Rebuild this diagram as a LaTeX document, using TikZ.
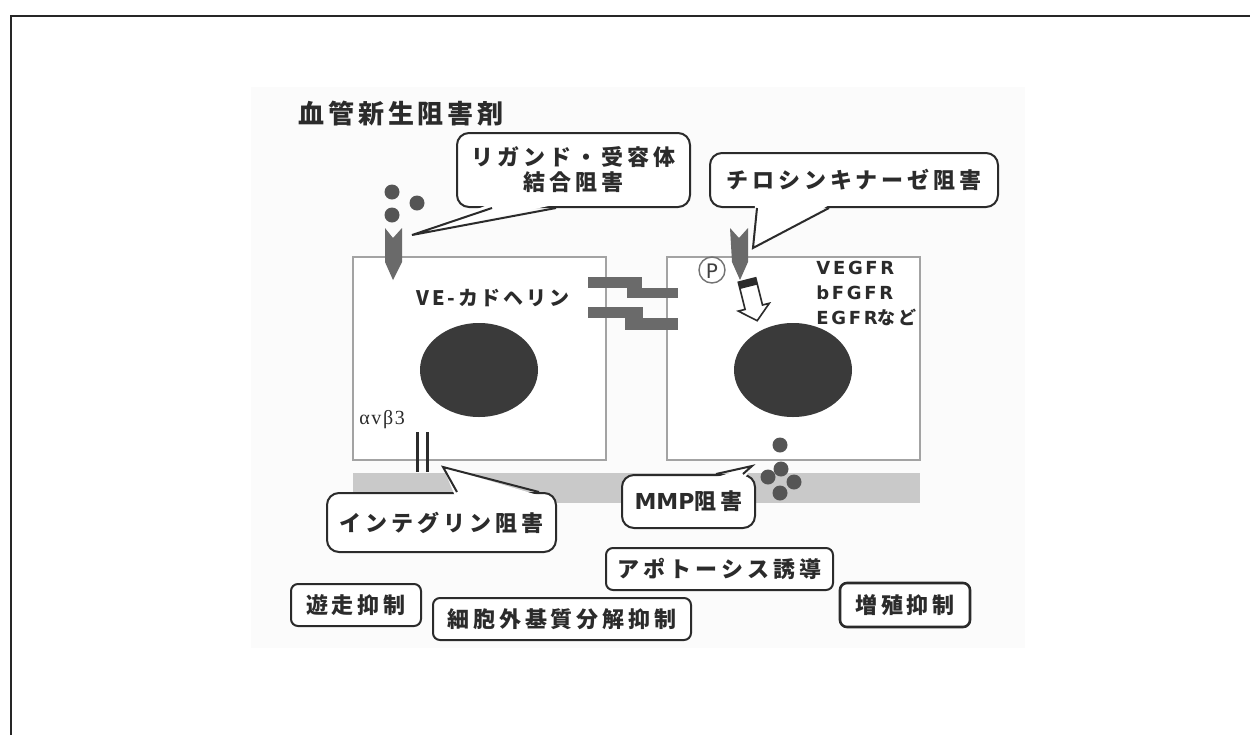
\documentclass[tikz,border=0pt]{standalone}
\usepackage{fontspec}
\usetikzlibrary{calc}
\newfontfamily\jpfont{Noto Sans CJK JP}[LetterSpace=18]
\newfontfamily\jpnarrow{Noto Sans CJK JP}[LetterSpace=14]
\newfontfamily\jptitle{Noto Sans CJK JP}[LetterSpace=15]
\newfontfamily\latinwide{DejaVu Sans}[LetterSpace=15]
\newfontfamily\latinplain{DejaVu Sans}
\newfontfamily\greekserif{Liberation Serif}[LetterSpace=8]
\definecolor{ink}{HTML}{2B2B2B}
\definecolor{cellline}{HTML}{A3A3A3}
\definecolor{darknuc}{HTML}{3A3A3A}
\definecolor{protein}{HTML}{6A6A6A}
\definecolor{dotgray}{HTML}{555555}
\definecolor{band}{HTML}{C9C9C9}
\begin{document}
\begin{tikzpicture}[x=0.5pt,y=-0.5pt,
  jptext/.style={font=\jpfont\bfseries\fontsize{11}{12.5}\selectfont, text=ink},
  bubble/.style={jptext, draw=ink, line width=1pt, fill=white, rounded corners=6pt,
    inner sep=0pt, align=center},
  tag/.style={jptext, draw=ink, line width=1pt, fill=white, rounded corners=3.5pt,
    inner sep=0pt},
  tailline/.style={draw=ink, line width=1pt},
  cell/.style={draw=cellline, line width=1.2pt, fill=white},
  nucleus/.style={fill=darknuc},
  ligand/.style={fill=dotgray},
  receptor/.style={fill=protein},
  cadherin/.style={fill=protein},
]
\useasboundingbox (0,0) rectangle (1250,735);

% page frame and panel background
\fill[black!1.5] (251,87) rectangle (1025,648);
\draw[line width=1pt, black!85] (11,735) -- (11,16) -- (1250,16);

% title
\node[anchor=west, inner sep=0pt, font=\jptitle\bfseries\fontsize{13}{14}\selectfont, text=ink]
  (title) at (298,114) {血管新生阻害剤};

% basement membrane
\fill[band] (353,473) rectangle (920,503);

% two endothelial cells
\draw[cell] (353,257) rectangle (606,460);
\draw[cell] (667,257) rectangle (920,460);
\fill[nucleus] (479,370) ellipse [x radius=59, y radius=47];
\fill[nucleus] (793,370) ellipse [x radius=59, y radius=47];

% VE-cadherin junctions
\fill[cadherin] (588,277) rectangle (642,288);
\fill[cadherin] (627,288) rectangle (678,298);
\fill[cadherin] (588,307) rectangle (643,318);
\fill[cadherin] (625,318) rectangle (678,330);
\node[inner sep=0pt, font=\jpnarrow\bfseries\fontsize{10}{12}\selectfont, text=ink]
  (vecad) at (493,298) {VE-カドヘリン};

% ligands and receptor, left cell
\fill[ligand] (392,192) circle [radius=7.5];
\fill[ligand] (417,203) circle [radius=7.5];
\fill[ligand] (392,215) circle [radius=7.5];
\fill[receptor] (385,228) -- (393,238) -- (402,228) -- (402,262) -- (393,280) -- (385,262) -- cycle;

% receptor tyrosine kinase, right cell
\fill[receptor] (730,228) -- (739,238) -- (748,228) -- (748,262) -- (740,280) -- (732,262) -- cycle;
\draw[black!55, line width=0.7pt] (712,270) circle [radius=13];
\node[inner sep=0pt, font=\latinplain\fontsize{10}{11}\selectfont, text=black!75] (pmark) at (712,271) {P};
% hollow signalling arrow
\filldraw[fill=white, draw=ink, line width=0.8pt, line join=miter]
  (738.3,282.2) -- (755.7,277.8) -- (762.5,305.0) -- (769.3,303.3) -- (757.2,320.7)
  -- (738.3,311.1) -- (745.1,309.4) -- cycle;
\fill[ink] (738.3,282.2) -- (755.7,277.8) -- (757.4,284.6) -- (740.0,289.0) -- cycle;
\node[anchor=west, inner sep=0pt, align=left, font=\latinwide\bfseries\fontsize{9}{12.5}\selectfont, text=ink]
  (rtk) at (816,293) {VEGFR\\bFGFR\\EGFR{\jpfont\bfseries など}};

% integrin
\node[anchor=base west, inner sep=0pt, font=\greekserif\fontsize{10}{12}\selectfont, text=ink]
  (avb3) at (359,424) {αvβ3};
\draw[ink, line width=1.5pt] (417,432) -- (417,472);
\draw[ink, line width=1.5pt] (427,432) -- (427,472);

% MMP
\fill[ligand] (780,445) circle [radius=7.5];
\fill[ligand] (781,469) circle [radius=7.5];
\fill[ligand] (768,477) circle [radius=7.5];
\fill[ligand] (794,482) circle [radius=7.5];
\fill[ligand] (780,493) circle [radius=7.5];

% callout: ligand-receptor binding
\node[bubble, minimum width=116.5pt, minimum height=37pt] (cLig) at (573.5,170)
  {リガンド・受容体\\結合阻害};
\coordinate (tipLig) at (412,235);
\fill[white] ($(cLig.south west)+(34,-4)$) -- (tipLig) -- ($(cLig.south west)+(102,-4)$) -- cycle;
\draw[tailline] ($(cLig.south west)+(36,0)$) -- (tipLig) -- ($(cLig.south west)+(100,0)$);

% callout: tyrosine kinase
\node[bubble, minimum width=144pt, minimum height=27pt] (cTk) at (854,180) {チロシンキナーゼ阻害};
\coordinate (tipTk) at (753,248);
\fill[white] ($(cTk.south west)+(46,-4)$) -- (tipTk) -- ($(cTk.south west)+(122,-4)$) -- cycle;
\draw[tailline] ($(cTk.south west)+(48,0)$) -- (tipTk) -- ($(cTk.south west)+(120,0)$);

% callout: integrin
\node[bubble, minimum width=114.5pt, minimum height=29.5pt] (cInt) at (441.5,522.5) {インテグリン阻害};
\coordinate (tipInt) at (443,467);
\fill[white] ($(cInt.north west)+(129,4)$) -- (tipInt) -- ($(cInt.north west)+(215,4)$) -- cycle;
\draw[tailline] ($(cInt.north west)+(131,0)$) -- (tipInt) -- ($(cInt.north west)+(213,0)$);

% callout: MMP
\node[bubble, minimum width=66.5pt, minimum height=26.5pt] (cMmp) at (688.5,501.5)
  {{\latinplain\bfseries MMP}阻害};
\coordinate (tipMmp) at (752,466);
\fill[white] ($(cMmp.north west)+(93,4)$) -- (tipMmp) -- ($(cMmp.north west)+(124,4)$) -- cycle;
\draw[tailline] ($(cMmp.north west)+(95,0)$) -- (tipMmp) -- ($(cMmp.north west)+(122,0)$);

% outcome labels
\node[tag, minimum width=65pt, minimum height=21pt] (migr) at (356,605) {遊走抑制};
\node[tag, minimum width=129pt, minimum height=21pt] (ecm) at (562,619) {細胞外基質分解抑制};
\node[tag, minimum width=113.5pt, minimum height=21pt] (apop) at (719.5,569) {アポトーシス誘導};
\node[tag, minimum width=65pt, minimum height=22pt, line width=1.3pt] (prolif) at (905,605) {増殖抑制};
\end{tikzpicture}
\end{document}
